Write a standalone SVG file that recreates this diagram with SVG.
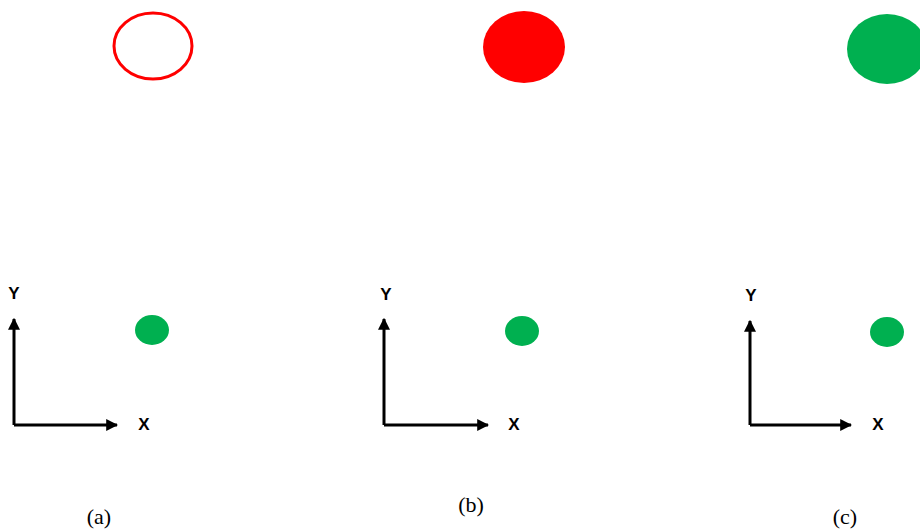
<svg xmlns="http://www.w3.org/2000/svg" width="920" height="531" viewBox="0 0 920 531">
<style>
.ax{stroke:#000;stroke-width:3;fill:none}
.lbl{font-family:"Liberation Sans",Arial,sans-serif;font-weight:bold;font-size:17px;fill:#000;text-anchor:middle}
.cap{font-family:"Liberation Serif","Times New Roman",serif;font-size:22px;fill:#000;text-anchor:middle}
.g{fill:#00B050}
</style>
<defs>
<marker id="ah" viewBox="0 0 10 10" refX="9" refY="5" markerWidth="4" markerHeight="4" orient="auto" markerUnits="strokeWidth">
<path d="M0,0 L10,5 L0,10 z" fill="#000"/>
</marker>
</defs>
<rect width="920" height="531" fill="#fff"/>
<g id="ring-a"><ellipse cx="153" cy="46" rx="39" ry="33" fill="none" stroke="#FF0000" stroke-width="3"/></g>
<g id="disk-b"><ellipse cx="524" cy="47" rx="41" ry="36" fill="#FF0000"/></g>
<g id="disk-c"><ellipse cx="887" cy="49" rx="40" ry="35" class="g"/></g>
<g id="dot-a"><ellipse cx="152" cy="330" rx="17" ry="15" class="g"/></g>
<g id="dot-b"><ellipse cx="522" cy="331" rx="17" ry="15" class="g"/></g>
<g id="dot-c"><ellipse cx="887" cy="332" rx="17" ry="15" class="g"/></g>
<g id="connectors">
<path class="ax" d="M14,425 V319" marker-end="url(#ah)"/>
<path class="ax" d="M14,425 H117" marker-end="url(#ah)"/>
<path class="ax" d="M384,425 V319" marker-end="url(#ah)"/>
<path class="ax" d="M384,425 H488" marker-end="url(#ah)"/>
<path class="ax" d="M750,425 V321" marker-end="url(#ah)"/>
<path class="ax" d="M750,425 H851" marker-end="url(#ah)"/>
</g>
<g id="labels">
<text class="lbl" x="14" y="299">Y</text>
<text class="lbl" x="144" y="430">X</text>
<text class="lbl" x="386" y="300">Y</text>
<text class="lbl" x="514" y="430">X</text>
<text class="lbl" x="751" y="301">Y</text>
<text class="lbl" x="878" y="430">X</text>
<text class="cap" x="99" y="524">(a)</text>
<text class="cap" x="471" y="512">(b)</text>
<text class="cap" x="845" y="524">(c)</text>
</g>
</svg>
